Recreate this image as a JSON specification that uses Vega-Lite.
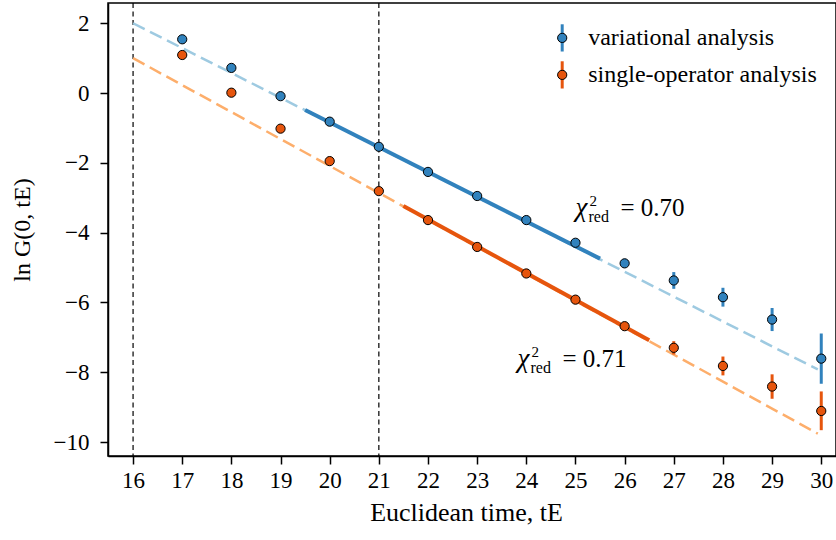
{
  "$schema": "https://vega.github.io/schema/vega-lite/v6.json",
  "width": 728,
  "height": 453,
  "autosize": {"type": "none"},
  "padding": {"left": 108, "top": 3, "right": 0, "bottom": 84},
  "background": "white",
  "config": {
    "view": {"stroke": "black", "strokeWidth": 1.5},
    "font": "Liberation Serif",
    "axis": {
      "labelFont": "Liberation Serif",
      "labelFontSize": 23,
      "labelColor": "black",
      "titleFont": "Liberation Serif",
      "titleFontSize": 24,
      "titleFontWeight": "normal",
      "titleColor": "black",
      "domainColor": "black",
      "domainWidth": 1.5,
      "tickColor": "black",
      "tickWidth": 1.5,
      "tickSize": 8,
      "grid": false
    }
  },
  "datasets": {
    "pts": [
      {"series": "variational analysis", "t": 17, "y": 1.54, "lo": 1.51, "hi": 1.57},
      {"series": "variational analysis", "t": 18, "y": 0.72, "lo": 0.69, "hi": 0.75},
      {"series": "variational analysis", "t": 19, "y": -0.09, "lo": -0.12, "hi": -0.06},
      {"series": "variational analysis", "t": 20, "y": -0.82, "lo": -0.85, "hi": -0.79},
      {"series": "variational analysis", "t": 21, "y": -1.54, "lo": -1.58, "hi": -1.5},
      {"series": "variational analysis", "t": 22, "y": -2.26, "lo": -2.3, "hi": -2.22},
      {"series": "variational analysis", "t": 23, "y": -2.95, "lo": -3.0, "hi": -2.9},
      {"series": "variational analysis", "t": 24, "y": -3.64, "lo": -3.7, "hi": -3.58},
      {"series": "variational analysis", "t": 25, "y": -4.29, "lo": -4.37, "hi": -4.21},
      {"series": "variational analysis", "t": 26, "y": -4.88, "lo": -5.01, "hi": -4.75},
      {"series": "variational analysis", "t": 27, "y": -5.37, "lo": -5.61, "hi": -5.13},
      {"series": "variational analysis", "t": 28, "y": -5.85, "lo": -6.12, "hi": -5.58},
      {"series": "variational analysis", "t": 29, "y": -6.49, "lo": -6.82, "hi": -6.16},
      {"series": "variational analysis", "t": 30, "y": -7.61, "lo": -8.33, "hi": -6.89},
      {"series": "single-operator analysis", "t": 17, "y": 1.09, "lo": 1.06, "hi": 1.12},
      {"series": "single-operator analysis", "t": 18, "y": 0.01, "lo": -0.02, "hi": 0.04},
      {"series": "single-operator analysis", "t": 19, "y": -1.02, "lo": -1.05, "hi": -0.99},
      {"series": "single-operator analysis", "t": 20, "y": -1.95, "lo": -1.98, "hi": -1.92},
      {"series": "single-operator analysis", "t": 21, "y": -2.81, "lo": -2.85, "hi": -2.77},
      {"series": "single-operator analysis", "t": 22, "y": -3.64, "lo": -3.68, "hi": -3.6},
      {"series": "single-operator analysis", "t": 23, "y": -4.41, "lo": -4.46, "hi": -4.36},
      {"series": "single-operator analysis", "t": 24, "y": -5.17, "lo": -5.23, "hi": -5.11},
      {"series": "single-operator analysis", "t": 25, "y": -5.92, "lo": -6.0, "hi": -5.84},
      {"series": "single-operator analysis", "t": 26, "y": -6.68, "lo": -6.78, "hi": -6.58},
      {"series": "single-operator analysis", "t": 27, "y": -7.3, "lo": -7.49, "hi": -7.11},
      {"series": "single-operator analysis", "t": 28, "y": -7.82, "lo": -8.09, "hi": -7.55},
      {"series": "single-operator analysis", "t": 29, "y": -8.41, "lo": -8.76, "hi": -8.06},
      {"series": "single-operator analysis", "t": 30, "y": -9.11, "lo": -9.66, "hi": -8.55}
    ],
    "fits": [
      {"series": "variational extrapolation", "t": 16, "y": 2.0},
      {"series": "variational extrapolation", "t": 29.93, "y": -7.92},
      {"series": "single-operator extrapolation", "t": 16, "y": 1.0},
      {"series": "single-operator extrapolation", "t": 29.93, "y": -9.76},
      {"series": "variational fit", "t": 19.5, "y": -0.485},
      {"series": "variational fit", "t": 25.5, "y": -4.745},
      {"series": "single-operator fit", "t": 21.5, "y": -3.235},
      {"series": "single-operator fit", "t": 26.5, "y": -7.085}
    ],
    "vlines": [{"t": 16}, {"t": 21}],
    "legend": [
      {"series": "variational analysis", "t": 24.73, "y": 1.58, "lo": 1.19, "hi": 1.97},
      {"series": "single-operator analysis", "t": 24.73, "y": 0.52, "lo": 0.13, "hi": 0.91}
    ],
    "notes": [
      {"t": 25.0, "y": -3.53, "stat": "= 0.70"},
      {"t": 23.82, "y": -7.85, "stat": "= 0.71"}
    ]
  },
  "encoding": {
    "x": {
      "field": "t",
      "type": "quantitative",
      "scale": {"domain": [15.49, 30.3], "nice": false, "zero": false},
      "axis": {"values": [16,17,18,19,20,21,22,23,24,25,26,27,28,29,30], "title": "Euclidean time, tE", "titleFontSize": 26, "titleX": 358, "labelPadding": 5, "titlePadding": 7, "format": "d"}
    },
    "y": {
      "field": "y",
      "type": "quantitative",
      "scale": {"domain": [-10.4, 2.58], "nice": false, "zero": false},
      "axis": {"values": [-10,-8,-6,-4,-2,0,2], "title": "ln G(0, tE)", "labelPadding": 11, "titlePadding": 19}
    }
  },
  "layer": [
    {
      "data": {"name": "vlines"},
      "mark": {"type": "rule", "color": "black", "strokeWidth": 1.2, "strokeDash": [5, 3.5]},
      "encoding": {"y": null}
    },
    {
      "data": {"name": "fits"},
      "transform": [{"filter": "indexof(datum.series, 'extrapolation') >= 0"}],
      "mark": {"type": "line", "strokeWidth": 2.5, "strokeDash": [13, 6]},
      "encoding": {
        "color": {"field": "series", "type": "nominal", "legend": null,
          "scale": {"domain": ["variational analysis", "single-operator analysis", "variational extrapolation", "single-operator extrapolation", "variational fit", "single-operator fit"],
                    "range": ["#3182bd", "#e6550d", "#9ecae1", "#fdae6b", "#3182bd", "#e6550d"]}}
      }
    },
    {
      "data": {"name": "fits"},
      "transform": [{"filter": "indexof(datum.series, 'fit') >= 0"}],
      "mark": {"type": "line", "strokeWidth": 4},
      "encoding": {"color": {"field": "series", "type": "nominal", "legend": null}}
    },
    {
      "data": {"name": "pts"},
      "mark": {"type": "rule", "strokeWidth": 3},
      "encoding": {
        "y": {"field": "lo", "type": "quantitative"},
        "y2": {"field": "hi"},
        "color": {"field": "series", "type": "nominal", "legend": null}
      }
    },
    {
      "data": {"name": "pts"},
      "mark": {"type": "point", "filled": true, "size": 85, "stroke": "black", "strokeWidth": 1, "opacity": 1},
      "encoding": {"fill": {"field": "series", "type": "nominal", "legend": null, "scale": {"domain": ["variational analysis", "single-operator analysis"], "range": ["#3182bd", "#e6550d"]}}}
    },
    {
      "data": {"name": "legend"},
      "mark": {"type": "rule", "strokeWidth": 3},
      "encoding": {
        "y": {"field": "lo", "type": "quantitative"},
        "y2": {"field": "hi"},
        "color": {"field": "series", "type": "nominal", "legend": null}
      }
    },
    {
      "data": {"name": "legend"},
      "mark": {"type": "point", "filled": true, "size": 85, "stroke": "black", "strokeWidth": 1, "opacity": 1},
      "encoding": {"fill": {"field": "series", "type": "nominal", "legend": null}}
    },
    {
      "data": {"name": "legend"},
      "mark": {"type": "text", "align": "left", "baseline": "middle", "dx": 26, "fontSize": 24, "font": "Liberation Serif", "color": "black"},
      "encoding": {"text": {"field": "series"}}
    },
    {
      "data": {"name": "notes"},
      "mark": {"type": "text", "text": "χ", "align": "left", "baseline": "alphabetic", "fontSize": 27, "fontStyle": "italic", "font": "Liberation Serif", "color": "black"},
      "encoding": {}
    },
    {
      "data": {"name": "notes"},
      "mark": {"type": "text", "text": "2", "align": "left", "baseline": "alphabetic", "dx": 14, "dy": -10, "fontSize": 15, "font": "Liberation Serif", "color": "black"},
      "encoding": {}
    },
    {
      "data": {"name": "notes"},
      "mark": {"type": "text", "text": "red", "align": "left", "baseline": "alphabetic", "dx": 13, "dy": 6, "fontSize": 16, "font": "Liberation Serif", "color": "black"},
      "encoding": {}
    },
    {
      "data": {"name": "notes"},
      "mark": {"type": "text", "align": "left", "baseline": "alphabetic", "dx": 45, "fontSize": 25, "font": "Liberation Serif", "color": "black"},
      "encoding": {"text": {"field": "stat"}}
    }
  ]
}
